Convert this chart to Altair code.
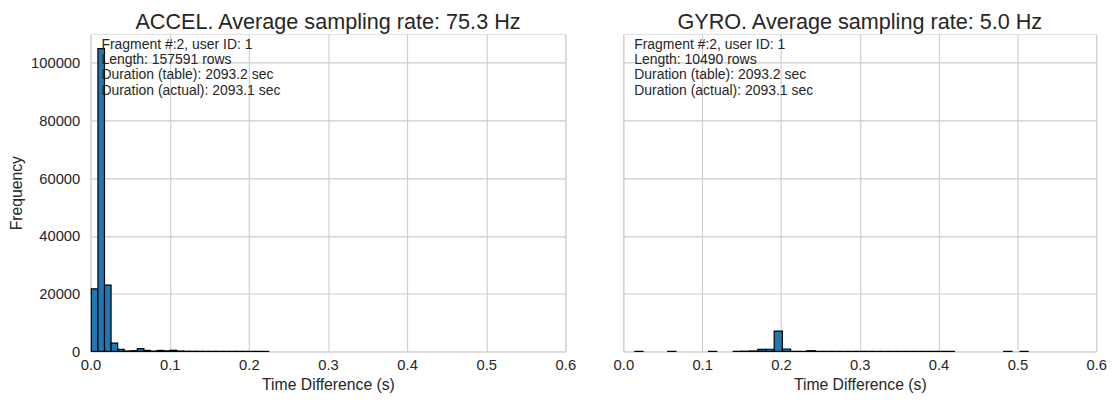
import altair as alt
import pandas as pd

# ---- data ----
accel_title = "ACCEL. Average sampling rate: 75.3 Hz"
gyro_title = "GYRO. Average sampling rate: 5.0 Hz"

accel_bin_start = 0.001
accel_bin_width = 0.0083
accel_counts = [21700, 104900, 23000, 2900, 700, 150, 250, 1000, 350, 150,
                350, 200, 400, 150, 80, 60, 50, 40, 40, 30,
                30, 30, 40, 30, 20, 20, 15]

gyro_bin_start = 0.0042
gyro_bin_width = 0.0104
gyro_counts = [0, 30, 0, 0, 0, 20, 0, 0, 0, 0,
               20, 0, 0, 40, 80, 150, 700, 750, 7050, 850,
               60, 40, 250, 30, 20, 20, 20, 20, 20, 20,
               20, 20, 20, 20, 20, 20, 20, 20, 20, 20,
               0, 0, 0, 0, 0, 0, 20, 0, 20, 0]

accel_info = ["Fragment #:2, user ID: 1", "Length: 157591 rows",
              "Duration (table): 2093.2 sec", "Duration (actual): 2093.1 sec"]
gyro_info = ["Fragment #:2, user ID: 1", "Length: 10490 rows",
             "Duration (table): 2093.2 sec", "Duration (actual): 2093.1 sec"]

x_ticks = [0.0, 0.1, 0.2, 0.3, 0.4, 0.5, 0.6]
y_ticks = [0, 20000, 40000, 60000, 80000, 100000]

FONT = "Liberation Sans"
TXT = "#262626"
GRID = "#cccccc"


def hist_df(start, width, counts):
    rows = []
    for i, c in enumerate(counts):
        if c > 0:
            s = start + i * width
            rows.append({"start": s, "end": s + width, "count": c})
    return pd.DataFrame(rows)


def panel(df, title, info, show_y, width):
    x_axis = alt.Axis(values=x_ticks, format=".1f", title="Time Difference (s)",
                      grid=True, gridColor=GRID, gridWidth=1.1, domain=False,
                      ticks=False, labelPadding=6, titlePadding=5,
                      labelFontSize=15, titleFontSize=16, labelColor=TXT,
                      titleColor=TXT, labelFont=FONT, titleFont=FONT,
                      titleFontWeight="normal", labelFlush=False)
    if show_y:
        y_axis = alt.Axis(values=y_ticks, format="d", title="Frequency",
                          grid=True, gridColor=GRID, gridWidth=1.1, domain=False,
                          ticks=False, labelPadding=11, titlePadding=6,
                          labelFontSize=15, titleFontSize=16, labelColor=TXT,
                          titleColor=TXT, labelFont=FONT, titleFont=FONT,
                          titleFontWeight="normal")
    else:
        y_axis = alt.Axis(values=y_ticks, title=None, labels=False,
                          grid=True, gridColor=GRID, gridWidth=1.1, domain=False,
                          ticks=False)
    bars = alt.Chart(df).mark_rect(fill="#1f77b4", stroke="black",
                                   strokeWidth=1.2).encode(
        x=alt.X("start:Q", scale=alt.Scale(domain=[0, 0.6], nice=False, zero=False),
                axis=x_axis),
        x2="end:Q",
        y=alt.Y("count:Q", scale=alt.Scale(domain=[0, 110000], nice=False),
                axis=y_axis),
        y2=alt.datum(0),
    )
    txt_df = pd.DataFrame({"label": ["\n".join(info)]})
    text = alt.Chart(txt_df).mark_text(
        align="left", baseline="top", lineBreak="\n", lineHeight=15.6,
        fontSize=14.2, font=FONT, color=TXT
    ).encode(x=alt.value(11), y=alt.value(4), text="label:N")
    return alt.layer(bars, text).properties(
        width=width, height=323,
        title=alt.TitleParams(title, fontSize=22, font=FONT, color=TXT,
                              fontWeight="normal", offset=0),
    )


left = panel(hist_df(accel_bin_start, accel_bin_width, accel_counts),
             accel_title, accel_info, True, 483)
right = panel(hist_df(gyro_bin_start, gyro_bin_width, gyro_counts),
              gyro_title, gyro_info, False, 481)

chart = alt.hconcat(left, right, spacing=37).properties(
    padding={"left": 0, "top": -1, "right": 0, "bottom": 0}
).configure_view(stroke=GRID, strokeWidth=1.25).configure(background="white")

chart.save("out.html", embed_options={"renderer": "svg", "actions": False})
